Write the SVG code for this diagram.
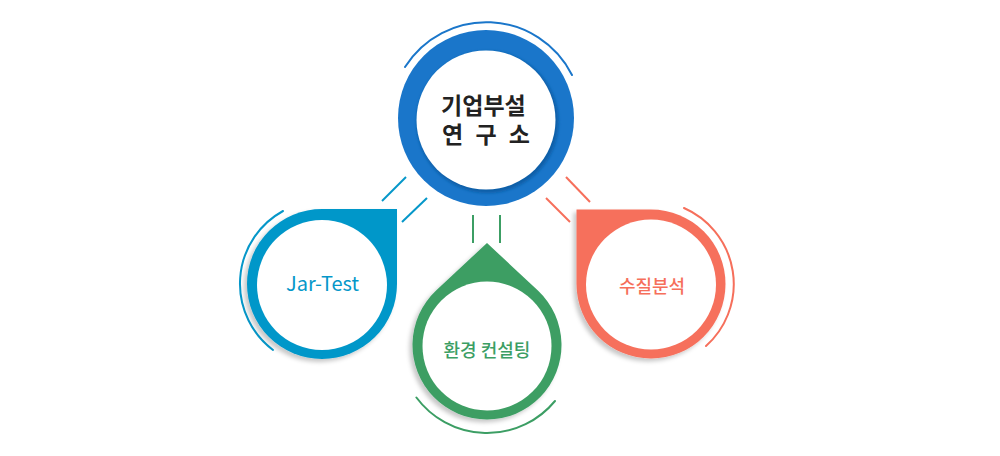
<svg xmlns="http://www.w3.org/2000/svg" width="1000" height="456" viewBox="0 0 1000 456">
  <defs>
    <filter id="shadow" x="-20%" y="-20%" width="140%" height="140%">
      <feDropShadow dx="-3" dy="3" stdDeviation="2" flood-color="#000" flood-opacity="0.22"/>
    </filter>
    <filter id="blur" x="-20%" y="-20%" width="140%" height="140%">
      <feGaussianBlur stdDeviation="1.5"/>
    </filter>
  </defs>
  <style>
    .arc { fill: none; stroke-width: 2; stroke-linecap: round; }
    .conn { stroke-width: 2; stroke-linecap: butt; }
    .lbl { font-family: "Noto Sans CJK KR", "Noto Sans", sans-serif; text-anchor: middle; }
    .blue { fill: #1a76ca; }
    .cyan { fill: #0597c9; }
    .green { fill: #3c9e64; }
    .red { fill: #f66f5b; }
  </style>
  <rect width="1000" height="456" fill="#ffffff"/>

  <g id="connectors">
    <line class="conn" x1="406" y1="177" x2="382" y2="201" stroke="#0597c9"/>
    <line class="conn" x1="427" y1="198" x2="402" y2="222" stroke="#0597c9"/>
    <line class="conn" x1="473" y1="215" x2="473" y2="243" stroke="#3c9e64"/>
    <line class="conn" x1="500" y1="215" x2="500" y2="243" stroke="#3c9e64"/>
    <line class="conn" x1="566" y1="177" x2="590" y2="202" stroke="#f66f5b"/>
    <line class="conn" x1="546" y1="198" x2="570" y2="222" stroke="#f66f5b"/>
  </g>

  <g id="node-center">
    <path class="arc" d="M 405 67 A 96 96 0 0 1 572 75" stroke="#1a76ca"/>
    <circle class="blue" cx="486" cy="118" r="88"/>
    <circle cx="487.5" cy="122" r="71" fill="#0f5ea8" filter="url(#blur)"/>
    <circle cx="486" cy="120" r="69.5" fill="#ffffff"/>
    <text class="lbl" font-size="23" font-weight="700" fill="#222222">
      <tspan x="486" y="114">기업부설</tspan>
      <tspan x="486" y="143" word-spacing="7">연 구 소</tspan>
    </text>
  </g>

  <g id="node-jar-test">
    <path class="arc" d="M 283 211 A 83 83 0 0 0 273 350" stroke="#0597c9"/>
    <path class="cyan" filter="url(#shadow)" d="M 322 209 L 397 209 L 397 284 A 75 75 0 1 1 322 209 Z"/>
    <circle cx="322" cy="285" r="65" fill="#ffffff"/>
    <text class="lbl" x="322.5" y="291" font-size="20" fill="#0597c9">Jar-Test</text>
  </g>

  <g id="node-consulting">
    <path class="arc" d="M 555 401 A 88 88 0 0 1 416.4 397.5" stroke="#3c9e64"/>
    <path class="green" filter="url(#shadow)" d="M 487 243 L 537.9 290.6 A 74.5 74.5 0 1 1 436.1 290.6 Z"/>
    <circle cx="487" cy="346" r="64.5" fill="#ffffff"/>
    <text class="lbl" x="487" y="357" font-size="18" font-weight="500" fill="#3c9e64">환경 컨설팅</text>
  </g>

  <g id="node-water">
    <path class="arc" d="M 684 208 A 83 83 0 0 1 706 346" stroke="#f66f5b"/>
    <path class="red" filter="url(#shadow)" d="M 576.5 209.5 L 651 209.5 A 74.5 74.5 0 1 1 576.5 284 Z"/>
    <circle cx="651" cy="284.5" r="65" fill="#ffffff"/>
    <text class="lbl" x="652" y="293" font-size="18" font-weight="500" fill="#f66f5b">수질분석</text>
  </g>
</svg>
